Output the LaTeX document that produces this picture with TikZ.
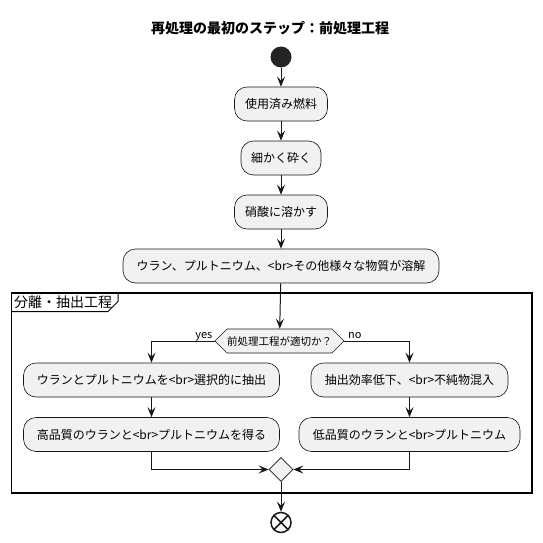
\documentclass[tikz,border=0pt]{standalone}
\usepackage{fontspec}
\setmainfont{Noto Sans CJK JP}
\usetikzlibrary{arrows.meta,shapes.geometric,shapes.symbols}
\definecolor{boxfill}{HTML}{F1F1F1}
\definecolor{ink}{HTML}{181818}
\tikzset{act/.style={rounded corners=12.5, draw=ink, line width=0.6pt, fill=boxfill, minimum height=34pt, inner sep=0pt, font=\fontsize{12}{14}\selectfont}}
\tikzset{arr/.style={draw=ink, line width=1pt, -{Stealth[length=10pt,width=8pt,inset=4pt]}}}
\tikzset{lbl/.style={inner sep=0pt, font=\fontsize{11}{13}\selectfont}}

\begin{document}
\begin{tikzpicture}[x=1pt,y=-1pt]
		\useasboundingbox (0,0) rectangle (542,543);
		\node[font=\bfseries\fontsize{14}{16}\selectfont] (title) at (270,28){再処理の最初のステップ：前処理工程};

		\node[circle, fill=ink!95!white, minimum size=21pt, inner sep=0pt] (start) at (281,57){};
		\node[act, minimum width=93pt] (fuel) at (281,104){使用済み燃料};
		\node[act, minimum width=80pt] (crush) at (281,158){細かく砕く};
		\node[act, minimum width=93pt] (acid) at (281,212){硝酸に溶かす};
		\node[act, minimum width=316pt] (sol) at (281,266){ウラン、プルトニウム、<br>その他様々な物質が溶解};

		\draw[arr] (start) -- (fuel);
		\draw[arr] (fuel) -- (crush);
		\draw[arr] (crush) -- (acid);
		\draw[arr] (acid) -- (sol);

		% partition
		\draw[black, line width=1.5pt] (11.5,293) rectangle (532,493);
		\draw[black, line width=1pt] (11.5,311.5) -- (108,311.5) -- (118,301.5) -- (118,293);
		\node[anchor=west, inner sep=0pt, font=\fontsize{14}{16}\selectfont] (part) at (14,302){分離・抽出工程};

		\node[signal, signal to=east and west, draw=ink, line width=0.6pt, fill=boxfill, minimum height=24pt, inner xsep=0pt, font=\fontsize{10.5}{12}\selectfont] (check) at (279.5,341){前処理工程が適切か？};
		\draw[arr] (sol) -- (check);

		\node[act, minimum width=256pt] (sel) at (151.5,380){ウランとプルトニウムを<br>選択的に抽出};
		\node[act, minimum width=256pt] (high) at (151.5,434.5){高品質のウランと<br>プルトニウムを得る};
		\node[act, minimum width=197pt] (loss) at (409.5,380){抽出効率低下、<br>不純物混入};
		\node[act, minimum width=221pt] (low) at (409.5,434.5){低品質のウランと<br>プルトニウム};

		\draw[arr] (check.west) -| (sel.north);
		\draw[arr] (check.east) -| (loss.north);
		\node[lbl, anchor=base east] (yes) at (212.5,338){yes};
		\node[lbl, anchor=base west] (no) at (348,338){no};
		\draw[arr] (sel) -- (high);
		\draw[arr] (loss) -- (low);

		\node[diamond, draw=ink, line width=0.6pt, fill=boxfill, minimum size=24pt, inner sep=0pt] (merge) at (281,469.5){};
		\draw[arr] (high.south) |- (merge.west);
		\draw[arr] (low.south) |- (merge.east);

		\node[circle, draw=ink, line width=1.5pt, minimum size=20pt, inner sep=0pt] (stop) at (281,522.5){};
		\draw[ink, line width=1.5pt] (stop.north west) -- (stop.south east) (stop.north east) -- (stop.south west);
		\draw[arr] (merge) -- (stop);
	\end{tikzpicture}
\end{document}
